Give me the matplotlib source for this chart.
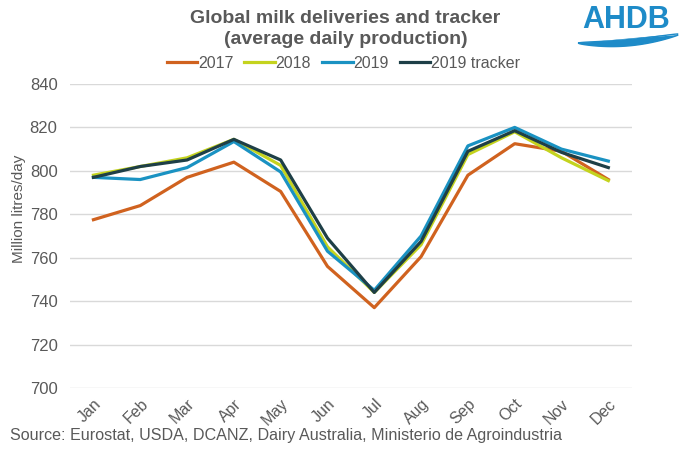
import matplotlib
matplotlib.use("Agg")
import matplotlib.pyplot as plt
import numpy as np

months = ["Jan", "Feb", "Mar", "Apr", "May", "Jun", "Jul", "Aug", "Sep", "Oct", "Nov", "Dec"]
y2017 = [777.5, 784, 797, 804, 790.5, 756, 737, 760.5, 798, 812.5, 809, 796]
y2018 = [798, 802, 806, 814.5, 802.5, 765, 744, 766, 807.5, 818, 806, 795.5]
y2019 = [797, 796, 801.5, 813.5, 799.5, 763, 745, 770, 811.5, 820, 810, 804.5]
tracker = [797, 802, 805, 814.5, 805, 769, 744, 767.5, 809, 818.5, 808.5, 801.5]

series = [("2017", y2017, "#D0621F"), ("2018", y2018, "#C4D31E"),
          ("2019", y2019, "#1A92C2"), ("2019 tracker", tracker, "#1E3F47")]

grey = "#595959"
plt.rcParams["font.family"] = ["Liberation Sans", "DejaVu Sans"]

fig = plt.figure(figsize=(6.8, 4.54), dpi=100)
ax = fig.add_axes([0.103, 0.1454, 0.826, 0.6696])

x = np.arange(len(months))
for name, vals, col in series:
    ax.plot(x, vals, color=col, lw=2.3, label=name)

ax.set_xlim(-0.5, 11.5)
ax.set_ylim(700, 840)
ax.set_yticks(range(700, 841, 20))
ax.set_xticks(x)
ax.set_xticklabels(months, rotation=45, ha="right", rotation_mode="anchor")
ax.grid(axis="y", color="#D9D9D9", lw=1)
ax.set_axisbelow(True)
for s in ax.spines.values():
    s.set_visible(False)
ax.tick_params(length=0, labelsize=12, colors=grey)
ax.tick_params(axis="x", pad=6, labelsize=11.5)
ax.tick_params(axis="y", pad=9)
ax.set_ylabel("Million litres/day", fontsize=11, color=grey)
ax.yaxis.set_label_coords(-0.078, 0.59)

fig.text(0.508, 0.978, "Global milk deliveries and tracker\n(average daily production)",
         ha="center", va="top", fontsize=14, fontweight="bold", color=grey,
         linespacing=1.3)
fig.legend(loc="center", bbox_to_anchor=(0.505, 0.86), ncol=4, frameon=False,
           fontsize=11.5, handlelength=1.9, handletextpad=0.05, columnspacing=0.7,
           labelcolor=grey, borderpad=0)

fig.text(0.014, 0.03, "Source: Eurostat, USDA, DCANZ, Dairy Australia, Ministerio de Agroindustria",
         ha="left", va="baseline", fontsize=11.6, color=grey)

# AHDB logo
fig.text(0.921, 0.938, "AHDB", ha="center", va="baseline", fontsize=22,
         fontweight="bold", color="#1E8BC8")
wx = np.linspace(0.85, 1.0, 60)
t = (wx - 0.85) / 0.15
mid = 0.905 + 0.004 * np.sin(t * np.pi) * -1 + 0.02 * t ** 2
thick = 0.014 * np.sin(t * np.pi) ** 0.6
fig.patches.append(plt.Polygon(np.column_stack([np.r_[wx, wx[::-1]],
                                                np.r_[mid + thick / 2, (mid - thick / 2)[::-1]]]),
                               closed=True, transform=fig.transFigure, color="#1E8BC8"))

fig.savefig("out.png", dpi=100)
